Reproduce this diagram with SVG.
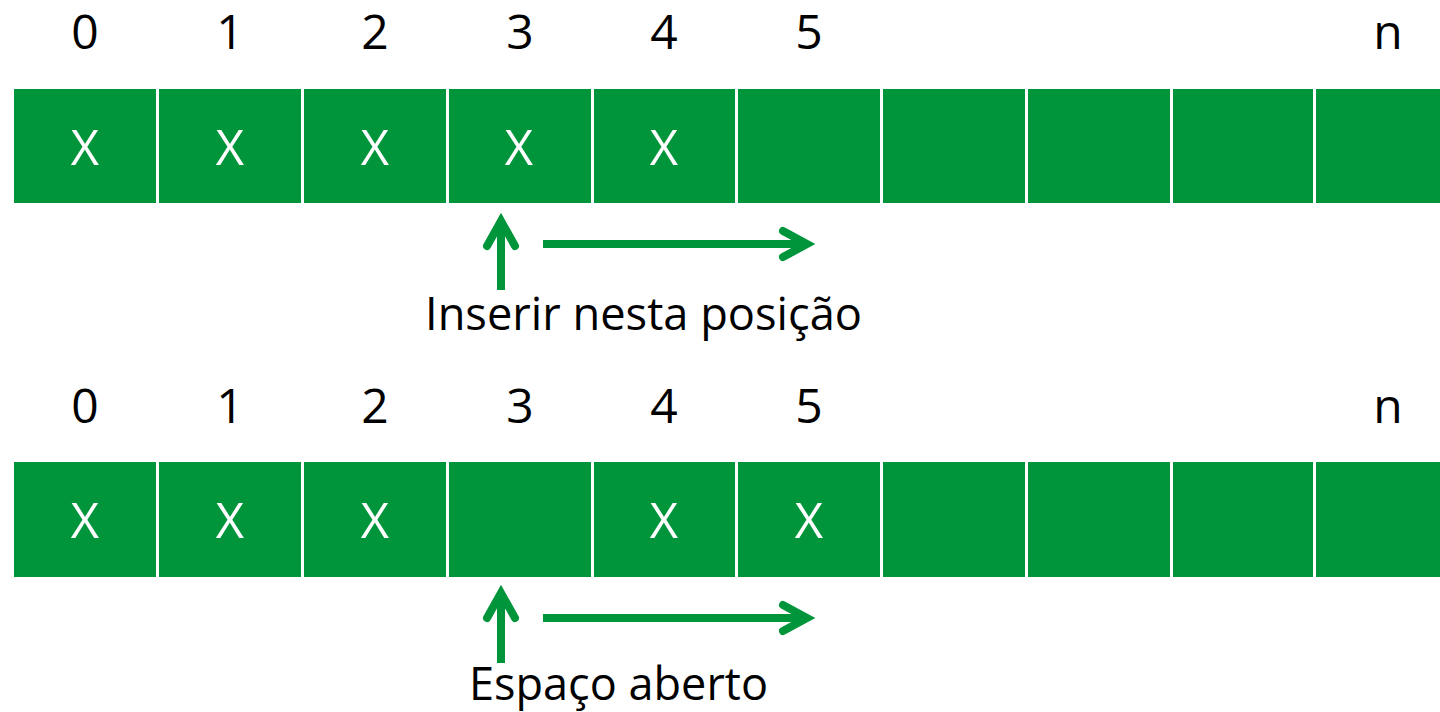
<svg xmlns="http://www.w3.org/2000/svg" width="1440" height="712" viewBox="0 0 1440 712">
<style>
.cell{fill:#00953A}
.idx{font-family:"Open Sans","DejaVu Sans",sans-serif;font-size:48px;fill:#000;text-anchor:middle}
.x{font-family:"Open Sans","DejaVu Sans",sans-serif;font-size:49px;fill:#fff;text-anchor:middle}
.lbl{font-family:"Open Sans","DejaVu Sans",sans-serif;font-size:45px;fill:#000}
.shaft{stroke:#00953A;stroke-width:8;fill:none;stroke-linecap:butt}
.head{stroke:#00953A;stroke-width:8;fill:none;stroke-linecap:round;stroke-linejoin:miter;stroke-miterlimit:10}
</style>
<rect width="1440" height="712" fill="#fff"/>
<g id="labels-top">
<text class="idx" x="85" y="49">0</text>
<text class="idx" x="230" y="49">1</text>
<text class="idx" x="375" y="49">2</text>
<text class="idx" x="520" y="49">3</text>
<text class="idx" x="664" y="49">4</text>
<text class="idx" x="809" y="49">5</text>
<text class="idx" x="1388" y="49">n</text>
</g>
<g id="row1">
<g id="r1c0"><rect class="cell" x="14" y="89" width="142" height="114"/><text class="x" x="85" y="165">X</text></g>
<g id="r1c1"><rect class="cell" x="159" y="89" width="142" height="114"/><text class="x" x="230" y="165">X</text></g>
<g id="r1c2"><rect class="cell" x="304" y="89" width="142" height="114"/><text class="x" x="375" y="165">X</text></g>
<g id="r1c3"><rect class="cell" x="449" y="89" width="142" height="114"/><text class="x" x="519" y="165">X</text></g>
<g id="r1c4"><rect class="cell" x="594" y="89" width="141" height="114"/><text class="x" x="664" y="165">X</text></g>
<g id="r1c5"><rect class="cell" x="738" y="89" width="142" height="114"/></g>
<g id="r1c6"><rect class="cell" x="883" y="89" width="142" height="114"/></g>
<g id="r1c7"><rect class="cell" x="1028" y="89" width="142" height="114"/></g>
<g id="r1c8"><rect class="cell" x="1173" y="89" width="140" height="114"/></g>
<g id="r1c9"><rect class="cell" x="1316" y="89" width="124" height="114"/></g>
</g>
<g id="labels-bottom">
<text class="idx" x="85" y="423">0</text>
<text class="idx" x="230" y="423">1</text>
<text class="idx" x="375" y="423">2</text>
<text class="idx" x="520" y="423">3</text>
<text class="idx" x="664" y="423">4</text>
<text class="idx" x="809" y="423">5</text>
<text class="idx" x="1388" y="423">n</text>
</g>
<g id="row2">
<g id="r2c0"><rect class="cell" x="14" y="462" width="142" height="115"/><text class="x" x="85" y="538">X</text></g>
<g id="r2c1"><rect class="cell" x="159" y="462" width="142" height="115"/><text class="x" x="230" y="538">X</text></g>
<g id="r2c2"><rect class="cell" x="304" y="462" width="142" height="115"/><text class="x" x="375" y="538">X</text></g>
<g id="r2c3"><rect class="cell" x="449" y="462" width="142" height="115"/></g>
<g id="r2c4"><rect class="cell" x="594" y="462" width="141" height="115"/><text class="x" x="664" y="538">X</text></g>
<g id="r2c5"><rect class="cell" x="738" y="462" width="142" height="115"/><text class="x" x="809" y="538">X</text></g>
<g id="r2c6"><rect class="cell" x="883" y="462" width="142" height="115"/></g>
<g id="r2c7"><rect class="cell" x="1028" y="462" width="142" height="115"/></g>
<g id="r2c8"><rect class="cell" x="1173" y="462" width="140" height="115"/></g>
<g id="r2c9"><rect class="cell" x="1316" y="462" width="124" height="115"/></g>
</g>
<g id="connectors">
<line class="shaft" x1="501" y1="290" x2="501" y2="224"/>
<polyline class="head" points="487,246 501,221 515,246"/>
<line class="shaft" x1="543" y1="244" x2="803" y2="244"/>
<polyline class="head" points="783,231 807,244 783,257"/>
<line class="shaft" x1="501" y1="663" x2="501" y2="596"/>
<polyline class="head" points="487,618 501,593 515,618"/>
<line class="shaft" x1="543" y1="618" x2="803" y2="618"/>
<polyline class="head" points="783,605 807,618 783,631"/>
</g>
<g id="captions">
<text class="lbl" x="425" y="330" textLength="437" lengthAdjust="spacingAndGlyphs">Inserir nesta posição</text>
<text class="lbl" x="469" y="700" textLength="299" lengthAdjust="spacingAndGlyphs">Espaço aberto</text>
</g>
</svg>
